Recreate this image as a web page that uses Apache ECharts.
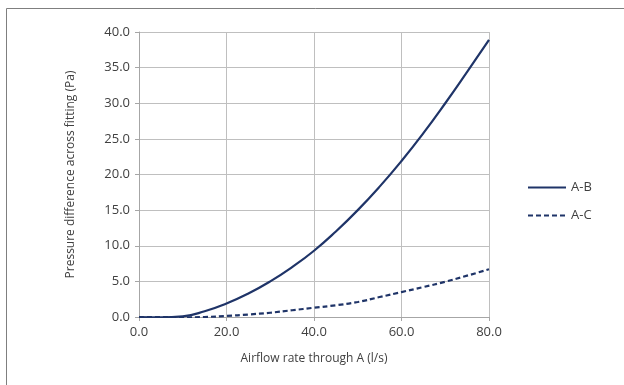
<!DOCTYPE html>
<html><head><meta charset="utf-8">
<script src="https://cdn.jsdelivr.net/npm/echarts@6/dist/echarts.min.js"></script>
<style>html,body{margin:0;padding:0;background:#fff}#c{width:624px;height:385px}</style>
</head><body><div id="c"></div>
<script>
var xs = [0, 5, 10, 15, 20, 25, 30, 35, 40, 45, 50, 55, 60, 65, 70, 75, 80];
var ab = [0, -0.05, 0.1, 0.8, 1.9, 3.3, 5.0, 7.0, 9.3, 12.0, 15.0, 18.3, 21.9, 25.8, 30.0, 34.4, 38.9];
var ac = [0, 0, -0.05, 0, 0.15, 0.35, 0.6, 0.95, 1.3, 1.65, 2.1, 2.8, 3.5, 4.2, 4.95, 5.8, 6.7];
var xTicks = [0, 20, 40, 60, 80];
var yTicks = [0, 5, 10, 15, 20, 25, 30, 35, 40];
var color = '#1f3468';
function pairs(v){ return xs.map(function(x,i){return [x, v[i]];}); }
var chart = echarts.init(document.getElementById('c'));
var font = 'Open Sans';
chart.setOption({
  animation: false,
  graphic: [{type:'rect', shape:{x:6.5,y:8.5,width:640,height:400}, style:{fill:'none', stroke:'#7f7f7f', lineWidth:1}}],
  grid: {left:139, right:135, top:32, bottom:68},
  legend: {
    orient:'vertical', left:522, top:176, itemWidth:38, itemHeight:12, itemGap:15,
    itemStyle:{opacity:0},
    textStyle:{fontFamily:font, fontSize:13, color:'#404040'}
  },
  xAxis: {
    type:'value', min:0, max:80, interval:20,
    name:'Airflow rate through A (l/s)', nameLocation:'middle', nameGap:36,
    nameTextStyle:{fontFamily:font, fontSize:12, color:'#404040'},
    axisLine:{show:true, lineStyle:{color:'#a6a6a6'}},
    axisTick:{show:true, length:4, inside:false, lineStyle:{color:'#a6a6a6'}},
    axisLabel:{fontFamily:font, fontSize:13, color:'#404040', margin:9, formatter:function(v){return xTicks.indexOf(v)>=0? v.toFixed(1):'';}},
    splitLine:{show:true, lineStyle:{color:'#bfbfbf'}}
  },
  yAxis: {
    type:'value', min:0, max:40, interval:5,
    name:'Pressure difference across fitting (Pa)', nameLocation:'middle', nameGap:62, nameRotate:90,
    nameTextStyle:{fontFamily:font, fontSize:12, color:'#404040'},
    axisLine:{show:true, lineStyle:{color:'#a6a6a6'}},
    axisTick:{show:true, length:4, lineStyle:{color:'#a6a6a6'}},
    axisLabel:{fontFamily:font, fontSize:13, color:'#404040', margin:9, formatter:function(v){return yTicks.indexOf(v)>=0? v.toFixed(1):'';}},
    splitLine:{show:true, lineStyle:{color:'#bfbfbf'}}
  },
  series: [
    {name:'A-B', type:'line', data:pairs(ab), smooth:0.5, symbol:'none', lineStyle:{color:color, width:2.2}, itemStyle:{color:color}},
    {name:'A-C', type:'line', data:pairs(ac), smooth:0.5, symbol:'none', lineStyle:{color:color, width:2.2, type:[5,3]}, itemStyle:{color:color}}
  ]
});
</script></body></html>
